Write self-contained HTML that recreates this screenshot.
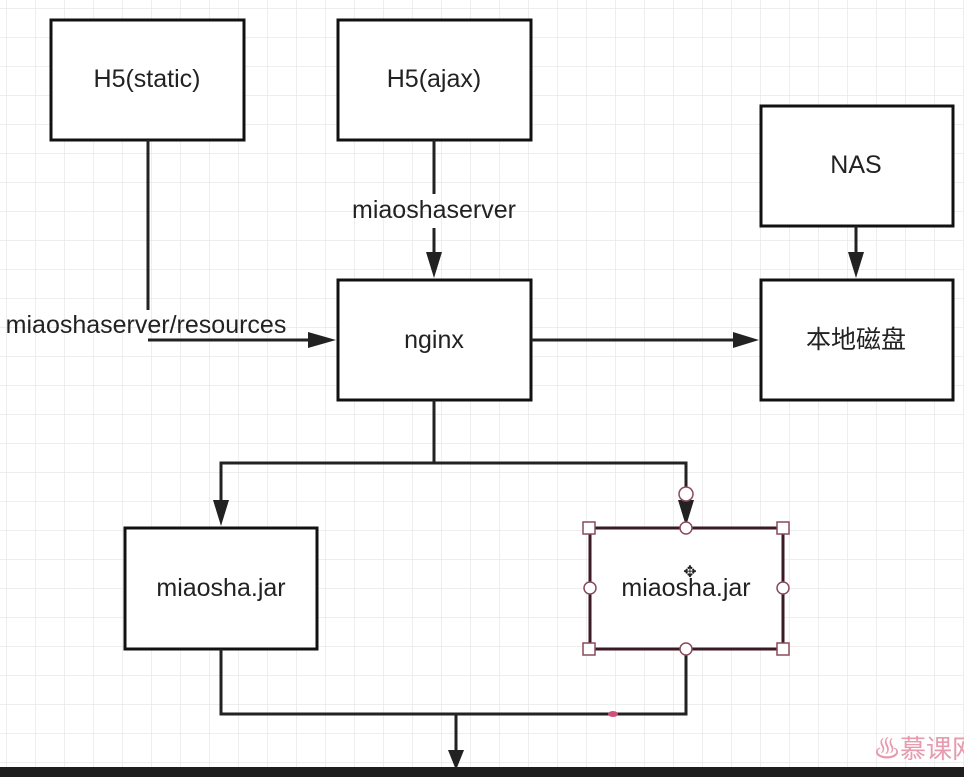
<!DOCTYPE html>
<html><head><meta charset="utf-8"><style>
html,body{margin:0;padding:0;background:#fff;}
svg{display:block}
text{font-family:"Liberation Sans","Noto Sans CJK SC",sans-serif;fill:#222;}
</style></head><body>
<svg width="964" height="777" viewBox="0 0 964 777" xmlns="http://www.w3.org/2000/svg">
<defs>
<pattern id="g" x="6" y="8" width="29" height="29" patternUnits="userSpaceOnUse">
<path d="M0 0H29M0 0V29" stroke="#e8e8e8" stroke-width="1.5" fill="none"/>
</pattern>
</defs>
<rect width="964" height="777" fill="url(#g)"/>
<g fill="#fff" stroke="#111" stroke-width="3">
<rect x="51" y="20" width="193" height="120"/>
<rect x="338" y="20" width="193" height="120"/>
<rect x="761" y="106" width="192" height="120"/>
<rect x="338" y="280" width="193" height="120"/>
<rect x="761" y="280" width="192" height="120"/>
<rect x="125" y="528" width="192" height="121"/>
<rect x="590" y="528" width="193" height="121" stroke="#3a1a24"/>
</g>
<g stroke="#222" stroke-width="3" fill="none">
<path d="M148 140V310"/>
<path d="M148 340H310"/>
<path d="M434 140V194"/>
<path d="M434 228V255"/>
<path d="M531 340H735"/>
<path d="M856 226V255"/>
<path d="M434 400V463H221V503M434 463H686V500"/>
<path d="M221 649V714H686V649"/>
<path d="M456 714V752"/>
</g>
<g fill="#222">
<polygon points="308,332 336,340 308,348"/>
<polygon points="426,252 434,278 442,252"/>
<polygon points="733,332 759,340 733,348"/>
<polygon points="848,252 856,278 864,252"/>
<polygon points="213,500 221,526 229,500"/>
<polygon points="678,500 686,526 694,500"/>
<polygon points="448,750 456,770 464,750"/>
</g>
<g fill="#fff" stroke="#8a4a5a" stroke-width="1.5">
<circle cx="686" cy="494" r="7"/>
<rect x="583" y="522" width="12" height="12"/><rect x="777" y="522" width="12" height="12"/>
<rect x="583" y="643" width="12" height="12"/><rect x="777" y="643" width="12" height="12"/>
<circle cx="686" cy="528" r="6"/><circle cx="686" cy="649" r="6"/>
<circle cx="590" cy="588" r="6"/><circle cx="783" cy="588" r="6"/>
</g>
<ellipse cx="613" cy="714" rx="5" ry="3" fill="#d0507a"/>
<g font-size="25" text-anchor="middle">
<text x="147" y="87">H5(static)</text>
<text x="434" y="87">H5(ajax)</text>
<text x="856" y="173">NAS</text>
<text x="434" y="348">nginx</text>
<text x="856" y="348">本地磁盘</text>
<text x="221" y="596">miaosha.jar</text>
<text x="686" y="596">miaosha.jar</text>
<text x="434" y="218">miaoshaserver</text>
<text x="146" y="333">miaoshaserver/resources</text>
</g>
<text x="690" y="577" font-size="16" text-anchor="middle">✥</text>
<text x="874" y="758" font-size="26" style="fill:#e89aae">♨慕课网</text>
<rect x="0" y="767" width="964" height="10" fill="#1e1e1e"/>
</svg>
</body></html>
